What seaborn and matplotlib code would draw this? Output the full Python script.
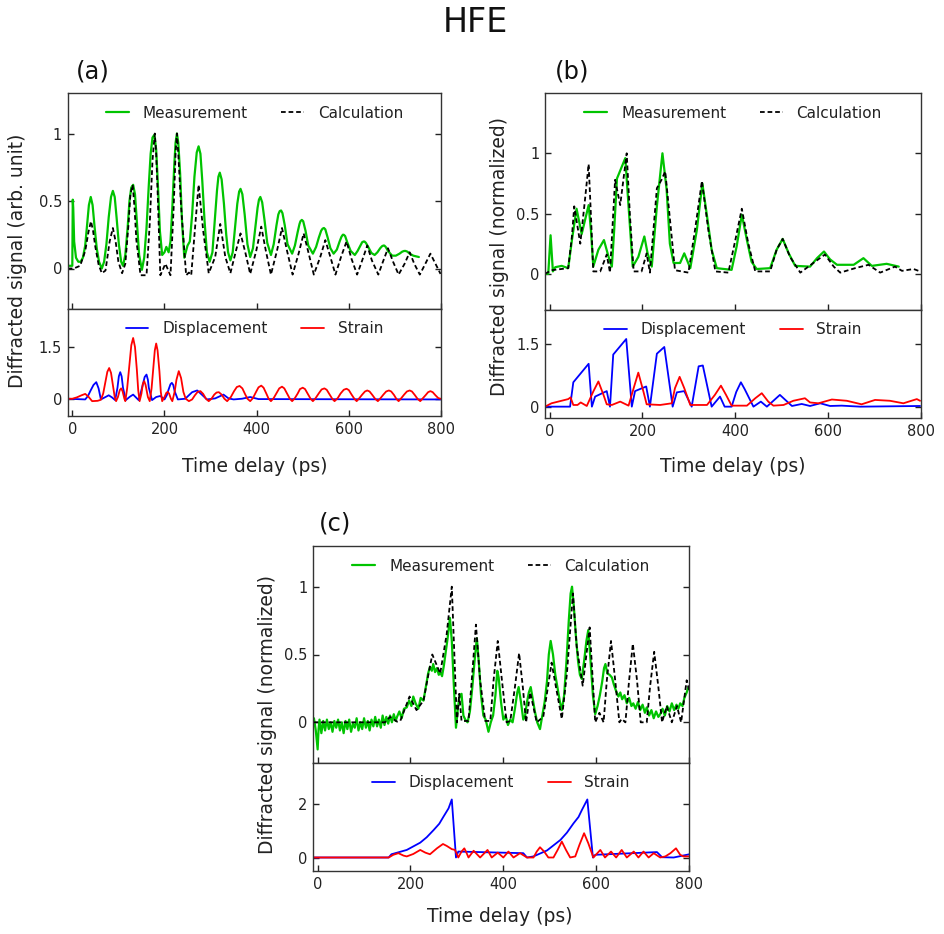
import numpy as np
import pandas as pd
import matplotlib
matplotlib.use("Agg")
import matplotlib.pyplot as plt
import seaborn as sns

# ---------------- data ----------------
# Panel (a) top: measurement as (time ps, signal) pairs
a_meas = [(-8, 0.02), (0, 0.02), (1, 0.51), (2, 0.45), (4, 0.2), (8, 0.08), (13, 0.05), (18, 0.05), (23, 0.08),
          (28, 0.17), (32, 0.32), (36, 0.47), (40, 0.53), (44, 0.47), (48, 0.32), (53, 0.15), (58, 0.05), (64, 0.0),
          (69, 0.05), (74, 0.18), (79, 0.38), (84, 0.53), (88, 0.575), (92, 0.53), (96, 0.38), (101, 0.18),
          (106, 0.05), (110, 0.02), (115, 0.1), (120, 0.3), (124, 0.5), (128, 0.6), (132, 0.62), (136, 0.55),
          (140, 0.35), (145, 0.1), (151, -0.01), (156, 0.08), (161, 0.3), (166, 0.62), (170, 0.85), (174, 0.97),
          (178, 0.99), (182, 0.88), (186, 0.6), (190, 0.28), (195, 0.1), (200, 0.12), (204, 0.16), (209, 0.12),
          (213, 0.2), (217, 0.45), (221, 0.75), (224, 0.93), (227, 1.0), (230, 0.93), (234, 0.7), (238, 0.35),
          (243, 0.08), (250, 0.17), (255, 0.2), (260, 0.4), (265, 0.68), (270, 0.86), (274, 0.905), (278, 0.85),
          (282, 0.65), (287, 0.35), (292, 0.12), (298, 0.05), (304, 0.12), (309, 0.35), (314, 0.58), (317, 0.68),
          (320, 0.71), (324, 0.66), (329, 0.48), (334, 0.25), (338, 0.12), (343, 0.06), (348, 0.12), (353, 0.3),
          (358, 0.48), (362, 0.57), (365, 0.59), (369, 0.55), (374, 0.4), (380, 0.18), (386, 0.085), (392, 0.15),
          (397, 0.3), (402, 0.45), (405, 0.51), (408, 0.53), (412, 0.49), (417, 0.36), (423, 0.19), (431, 0.10),
          (437, 0.18), (443, 0.32), (447, 0.4), (450, 0.425), (453, 0.43), (456, 0.41), (461, 0.32), (467, 0.18),
          (477, 0.11), (483, 0.17), (489, 0.27), (493, 0.33), (495, 0.35), (498, 0.36), (501, 0.35), (506, 0.28),
          (512, 0.17), (522, 0.11), (529, 0.16), (535, 0.23), (540, 0.28), (543, 0.295), (546, 0.30), (549, 0.29),
          (554, 0.23), (560, 0.15), (567, 0.11), (574, 0.14), (580, 0.2), (584, 0.235), (587, 0.25), (589, 0.25),
          (592, 0.24), (597, 0.19), (604, 0.13), (613, 0.10), (619, 0.13), (625, 0.17), (629, 0.195), (632, 0.2),
          (634, 0.2), (637, 0.19), (642, 0.16), (649, 0.115), (656, 0.10), (662, 0.12), (668, 0.15), (672, 0.165),
          (675, 0.17), (677, 0.17), (680, 0.16), (685, 0.13), (694, 0.095), (702, 0.095), (710, 0.11), (716, 0.125),
          (720, 0.13), (723, 0.13), (727, 0.125), (732, 0.11), (740, 0.095), (752, 0.085)]
a_calc_t = [-10, 3, 17, 28, 35, 40.5, 45, 50, 57, 64, 72, 81, 88, 94, 100, 108, 115, 122, 126, 131, 135, 139, 148,
            161, 168, 174, 179, 182, 185, 191, 202, 213, 220, 224, 227, 230, 236, 247, 253, 258, 267, 274, 284, 296,
            310, 321, 332, 343, 355, 365, 376, 386, 399, 410, 420, 431, 444, 455, 466, 478, 491, 502, 513, 524, 538,
            549, 560, 571, 583, 595, 606, 618, 629, 640, 650, 664, 674, 685, 696, 708, 721, 732, 742, 754, 766, 777,
            788, 799]
a_calc_v = [0, 0, 0.02, 0.13, 0.27, 0.35, 0.28, 0.16, 0.03, -0.035, -0.015, 0.2, 0.30, 0.2, 0.05, -0.035, 0.035,
            0.33, 0.55, 0.62, 0.45, 0.21, -0.05, -0.05, 0.33, 0.8, 1.0, 0.85, 0.58, -0.05, 0.035, -0.05, 0.46, 0.85,
            1.0, 0.85, 0.46, -0.05, -0.03, -0.05, 0.33, 0.62, 0.28, -0.035, 0.085, 0.33, 0.085, -0.035, 0.13, 0.26,
            0.11, -0.04, 0.13, 0.31, 0.13, -0.045, 0.13, 0.30, 0.13, -0.045, 0.11, 0.26, 0.11, -0.045, 0.085, 0.21,
            0.085, -0.045, 0.085, 0.20, 0.07, -0.045, 0.06, 0.17, 0.06, -0.045, 0.05, 0.15, 0.05, -0.045, 0.035,
            0.12, 0.035, -0.045, 0.035, 0.11, 0.035, -0.04]
# Panel (a) bottom
a_strain = [(-10, 0), (0, 0), (10, 0.04), (20, 0.1), (28, 0.14), (35, 0.06), (43, -0.07), (55, -0.06), (62, -0.03),
            (67, 0.15), (72, 0.5), (76, 0.78), (80, 0.89), (84, 0.75), (88, 0.4), (92, 0.05), (95, -0.07),
            (99, 0.05), (103, 0.25), (106, 0.30), (109, 0.22), (113, 0.0), (115, -0.07), (119, 0.3), (124, 1.0),
            (128, 1.55), (132, 1.76), (136, 1.5), (140, 0.85), (143, 0.25), (146, -0.07), (150, 0.15), (153, 0.43),
            (156, 0.51), (159, 0.4), (164, 0.05), (168, -0.07), (172, 0.3), (176, 0.95), (179, 1.4), (182, 1.60),
            (185, 1.4), (189, 0.8), (192, 0.2), (195, -0.07), (200, 0.05), (204, 0.17), (207, 0.20), (210, 0.15),
            (214, 0.0), (217, -0.07), (222, 0.2), (226, 0.55), (231, 0.80), (236, 0.6), (241, 0.2), (246, 0.0),
            (253, -0.07), (260, -0.02), (266, 0.1), (272, 0.2), (278, 0.22), (284, 0.14), (290, 0.0), (296, -0.07),
            (302, 0.0), (308, 0.12), (313, 0.18), (318, 0.19), (324, 0.12), (330, 0.0), (336, -0.07), (344, 0.05),
            (351, 0.22), (357, 0.34), (363, 0.37), (369, 0.3), (375, 0.13), (380, 0.0), (386, -0.07), (392, 0.02),
            (398, 0.18), (404, 0.33), (410, 0.38), (415, 0.32), (421, 0.15), (426, 0.0), (431, -0.07), (437, 0.02),
            (443, 0.16), (449, 0.3), (455, 0.35), (460, 0.3), (466, 0.15), (472, 0.0), (477, -0.07), (483, 0.02),
            (489, 0.15), (494, 0.28), (500, 0.32), (505, 0.28), (511, 0.14), (517, 0.0), (522, -0.07), (528, 0.02),
            (535, 0.16), (541, 0.27), (547, 0.30), (552, 0.26), (558, 0.13), (564, 0.0), (569, -0.07), (576, 0.02),
            (582, 0.15), (589, 0.26), (595, 0.29), (600, 0.25), (606, 0.12), (612, 0.0), (617, -0.07), (623, 0.02),
            (629, 0.12), (635, 0.21), (640, 0.24), (645, 0.21), (651, 0.11), (657, 0.0), (663, -0.07), (669, 0.02),
            (675, 0.12), (681, 0.21), (687, 0.24), (692, 0.21), (698, 0.11), (703, 0.0), (708, -0.07), (714, 0.02),
            (720, 0.12), (726, 0.21), (732, 0.24), (737, 0.21), (743, 0.11), (749, 0.0), (755, -0.07), (761, 0.02),
            (767, 0.11), (772, 0.19), (777, 0.22), (782, 0.19), (788, 0.1), (794, 0.02), (799, 0.0)]
a_disp_t = [-10, 28, 34, 39, 46, 52, 57, 62, 72, 79, 86, 93, 98, 101, 104, 107, 110, 116, 125, 132, 138, 144, 149,
            153, 157, 161, 164, 166, 173, 182, 191, 200, 205, 209, 213, 216, 219, 222, 229, 245, 260, 271, 281, 292,
            310, 328, 339, 350, 368, 386, 404, 799]
a_disp_v = [0, -0.02, 0.08, 0.22, 0.4, 0.48, 0.3, -0.02, 0.05, 0.10, 0.04, -0.04, 0.32, 0.65, 0.77, 0.65, 0.32,
            -0.04, 0.06, 0.12, 0.04, -0.04, 0.2, 0.41, 0.63, 0.70, 0.55, 0.32, -0.04, 0.05, 0.08, -0.02, 0.1, 0.27,
            0.42, 0.46, 0.4, 0.22, -0.02, 0.0, 0.19, 0.24, 0.12, -0.02, 0.01, 0.12, 0.01, -0.02, 0.0, 0.05, -0.01,
            -0.02]

# Panel (b) top
b_meas_t = [-10, -3, 2, 7, 12, 26, 40, 48, 58, 69, 84, 89, 94, 105, 117, 127, 134, 139, 145, 163, 170, 179,
            191, 204, 211, 220, 231, 243, 252, 259, 267, 281, 290, 303, 317, 329, 339, 349, 360, 392, 403, 414,
            425, 435, 446, 475, 489, 502, 515, 529, 561, 576, 591, 604, 619, 655, 676, 694, 726, 752]
b_meas_v = [0, 0, 0.32, 0.02, 0.055, 0.066, 0.047, 0.28, 0.54, 0.33, 0.57, 0.36, 0.06, 0.20, 0.28, 0.14, 0.06,
            0.36, 0.79, 0.96, 0.56, 0.06, 0.14, 0.31, 0.17, 0.06, 0.56, 1.0, 0.70, 0.25, 0.09, 0.09, 0.17, 0.047,
            0.36, 0.75, 0.48, 0.20, 0.047, 0.033, 0.23, 0.49, 0.28, 0.10, 0.04, 0.047, 0.20, 0.29, 0.17, 0.066,
            0.06, 0.13, 0.185, 0.12, 0.075, 0.075, 0.13, 0.066, 0.083, 0.06]
b_calc_t = [-10, 4, 40, 48, 53, 66, 76, 84, 89, 94, 109, 123, 130, 141, 152, 166, 173, 181, 198, 209, 216, 231,
            241, 249, 260, 270, 299, 313, 328, 342, 357, 385, 400, 414, 428, 443, 475, 489, 502, 518, 540, 568,
            593, 612, 626, 658, 687, 712, 744, 759, 784, 798]
b_calc_v = [0, 0.03, 0.047, 0.31, 0.56, 0.25, 0.61, 0.91, 0.48, 0.02, 0.02, 0.16, 0.01, 0.78, 0.57, 1.0, 0.48,
            0.02, 0.02, 0.17, 0.01, 0.71, 0.78, 0.85, 0.42, 0.03, 0.01, 0.36, 0.77, 0.36, 0.02, 0.01, 0.28, 0.54,
            0.25, 0.02, 0.02, 0.20, 0.29, 0.14, 0.01, 0.09, 0.16, 0.06, 0.01, 0.047, 0.075, 0.01, 0.06, 0.025,
            0.04, 0.02]
# Panel (b) bottom
b_disp_t = [-10, 44, 51, 84, 91, 98, 123, 130, 137, 165, 177, 184, 208, 216, 231, 247, 265, 274, 290, 306, 321,
            330, 349, 367, 377, 392, 402, 412, 420, 439, 455, 468, 496, 522, 543, 561, 583, 604, 629, 669, 798]
b_disp_v = [0, 0, 0.58, 1.02, 0, 0.24, 0.37, 0, 1.24, 1.61, 0, 0.37, 0.48, 0, 1.26, 1.42, 0, 0.34, 0.37, 0,
            0.96, 0.98, 0, 0.24, 0, 0, 0.35, 0.58, 0.42, 0, 0.12, 0, 0.28, 0.016, 0.064, 0.016, 0.08, 0.016, 0.024,
            0, 0.016]
b_strain_t = [-10, 4, 40, 45, 51, 60, 67, 80, 94, 105, 116, 123, 134, 152, 170, 181, 191, 202, 209, 238, 263,
              270, 280, 290, 303, 339, 356, 369, 380, 392, 425, 443, 457, 471, 482, 504, 525, 550, 561, 579, 608,
              640, 672, 701, 733, 762, 791, 798]
b_strain_v = [0, 0.08, 0.18, 0.22, 0.04, 0.04, 0.10, 0.016, 0.36, 0.60, 0.28, 0.056, 0.04, 0.12, 0.024, 0.44,
              0.81, 0.36, 0.056, 0.04, 0.08, 0.44, 0.71, 0.44, 0.04, 0.04, 0.28, 0.50, 0.28, 0.024, 0.024, 0.20,
              0.32, 0.12, 0.024, 0.04, 0.14, 0.20, 0.10, 0.08, 0.17, 0.14, 0.056, 0.16, 0.14, 0.08, 0.18, 0.14]

# Panel (c) top
c_meas_t = [-8, -4, 0, 2, 4, 8, 12, 16, 20, 24, 28, 32, 36, 40, 44, 48, 52, 56, 60, 64, 68, 72, 76, 80, 84, 88,
            92, 96, 100, 104, 108, 112, 116, 120, 124, 128, 132, 136, 140, 144, 148, 152, 156, 160, 164, 168,
            171, 176, 181, 186, 192, 197, 202, 206, 211, 217, 222, 228, 234, 238, 242, 246, 249, 253, 257, 261,
            264, 268, 272, 276, 280, 285, 289, 293, 298, 302, 306, 310, 314, 318, 323, 328, 333, 338, 343, 347,
            352, 357, 362, 368, 373, 378, 383, 387, 390, 395, 400, 405, 410, 415, 420, 425, 430, 433, 438, 443,
            447, 451, 455, 459, 463, 468, 473, 479, 484, 489, 494, 498, 502, 507, 512, 517, 522, 526, 531, 536,
            541, 545, 548, 552, 556, 561, 565, 569, 574, 579, 583, 588, 593, 598, 603, 608, 613, 617, 620, 624,
            629, 634, 638, 643, 648, 652, 656, 661, 666, 671, 676, 680, 685, 690, 695, 700, 705, 709, 714, 719,
            724, 729, 734, 738, 743, 748, 753, 758, 763, 768, 773, 777, 781, 786, 790, 795, 799]
c_meas_v = [0.03, -0.06, -0.2, -0.05, 0.02, -0.08, 0.01, -0.06, 0.02, -0.05, 0.0, -0.07, 0.01, -0.04, 0.02,
            -0.06, 0.0, -0.08, 0.01, -0.05, 0.02, -0.07, -0.01, -0.04, 0.03, -0.06, 0.0, -0.05, 0.03, -0.04, 0.01,
            -0.06, 0.02, -0.03, 0.04, -0.03, 0.02, -0.04, 0.05, -0.02, 0.04, -0.01, 0.05, 0.0, 0.06, 0.01,
            0.04, 0.08, 0.03, 0.10, 0.11, 0.16, 0.12, 0.19, 0.14, 0.10, 0.18, 0.16, 0.28, 0.36, 0.41, 0.38, 0.43,
            0.37, 0.40, 0.35, 0.37, 0.34, 0.42, 0.52, 0.62, 0.77, 0.60, 0.30, -0.04, 0.10, 0.20, 0.21, 0.05, 0.02,
            0.0, 0.08, 0.25, 0.45, 0.62, 0.45, 0.20, 0.05, 0.02, -0.07, 0.0, 0.05, 0.20, 0.38, 0.33, 0.15, 0.02,
            0.05, -0.02, 0.02, 0.0, 0.10, 0.22, 0.26, 0.15, 0.02, 0.05, 0.15, 0.22, 0.26, 0.18, 0.08, 0.0, -0.05,
            0.05, 0.15, 0.30, 0.50, 0.60, 0.50, 0.35, 0.25, 0.15, 0.09, 0.20, 0.45, 0.75, 0.95, 1.0, 0.85, 0.65,
            0.45, 0.35, 0.32, 0.45, 0.60, 0.68, 0.45, 0.20, 0.06, 0.12, 0.20, 0.30, 0.40, 0.43, 0.36, 0.35, 0.33,
            0.28, 0.23, 0.19, 0.22, 0.17, 0.20, 0.14, 0.18, 0.12, 0.14, 0.10, 0.15, 0.09, 0.13, 0.07, 0.11, 0.05,
            0.09, 0.03, 0.08, 0.04, 0.06, 0.10, 0.05, 0.12, 0.08, 0.14, 0.09, 0.13, 0.10, 0.14, 0.12, 0.18, 0.22,
            0.26]
c_calc_t = [-9, 145, 156, 171, 178, 198, 213, 228, 239, 247, 264, 278, 289, 300, 305, 310, 325, 332, 341, 350,
            361, 372, 379, 388, 397, 407, 415, 425, 434, 442, 449, 458, 472, 486, 497, 504, 515, 526, 537, 550,
            558, 571, 586, 598, 607, 616, 623, 632, 641, 650, 655, 663, 671, 679, 688, 696, 709, 716, 725, 734,
            742, 752, 763, 774, 783, 795, 801]
c_calc_v = [0, 0, 0.04, 0.005, 0.01, 0.19, 0.09, 0.16, 0.36, 0.50, 0.36, 0.65, 1.0, 0, 0.21, 0.01, 0.01, 0.31,
            0.72, 0.31, 0.01, 0.01, 0.31, 0.60, 0.31, 0, 0.01, 0.26, 0.51, 0.26, 0, 0.22, 0, 0.04, 0.28, 0.44,
            0.23, 0.025, 0.36, 0.95, 0.56, 0.27, 0.70, 0, 0.07, 0, 0.31, 0.60, 0.31, 0, 0.025, 0, 0.31, 0.58,
            0.31, 0, 0, 0.26, 0.52, 0.26, 0, 0.12, 0, 0.12, 0, 0.31, 0.23]
# Panel (c) bottom
c_disp_t = [-9, 153, 159, 192, 221, 235, 250, 262, 271, 282, 289, 298, 303, 443, 451, 465, 494, 523, 537, 551, 562,
            569, 581, 593, 598, 731, 742, 767, 801]
c_disp_v = [0, 0, 0.12, 0.28, 0.55, 0.75, 1.02, 1.25, 1.51, 1.82, 2.15, 0, 0.22, 0.16, 0, 0.04, 0.26, 0.65, 0.92,
            1.26, 1.5, 1.75, 2.15, 0, 0.1, 0.2, 0.01, 0, 0.12]
c_strain_t = [-9, 153, 163, 174, 185, 192, 206, 221, 232, 242, 257, 270, 278, 289, 296, 303, 310, 316, 321, 325,
              336, 350, 366, 375, 388, 400, 411, 422, 436, 451, 465, 472, 479, 488, 497, 508, 517, 526, 535, 544,
              555, 564, 574, 583, 594, 609, 619, 632, 643, 655, 666, 681, 691, 702, 713, 724, 738, 749, 760, 772,
              781, 788, 801]
c_strain_v = [0, 0, 0.1, 0.16, 0.07, 0.04, 0.13, 0.28, 0.18, 0.12, 0.34, 0.50, 0.43, 0.31, 0.28, 0, 0.22, 0.34,
              0.16, 0, 0.25, 0, 0.28, 0, 0.18, 0, 0.22, 0, 0.16, 0, 0, 0.22, 0.38, 0.22, 0, 0, 0.28, 0.59, 0.28,
              0, 0.04, 0.47, 0.90, 0.53, 0, 0.28, 0, 0.22, 0, 0.28, 0, 0.22, 0, 0.22, 0, 0.16, 0, 0.04, 0.16,
              0.34, 0.10, 0.04, 0.04]

x_ticks = [0, 200, 400, 600, 800]

a_meas_t = [p[0] for p in a_meas]
a_meas_v = [p[1] for p in a_meas]
a_strain_t = [p[0] for p in a_strain]
a_strain_v = [p[1] for p in a_strain]

# ---------------- styling ----------------
sns.set_theme(style="ticks")
plt.rcParams['font.family'] = ['DejaVu Sans']

GREEN = '#00c400'
BLUE = '#0000ff'
RED = '#ff0000'
W, H = 945, 934

fig = plt.figure(figsize=(W / 100, H / 100), dpi=100)


def box(l, t, r, b):
    return [l / W, 1 - b / H, (r - l) / W, (b - t) / H]


def style(ax, ylim, yticks, yticklabels, show_xlabels):
    ax.set_xlim(-10, 800)
    ax.set_ylim(*ylim)
    ax.set_xticks(x_ticks)
    ax.set_yticks(yticks)
    ax.set_yticklabels(yticklabels)
    ax.tick_params(direction='in', length=4, width=1, right=True, top=False,
                   labelsize=10.5, colors='#222222', pad=4)
    if not show_xlabels:
        ax.tick_params(labelbottom=False)
    for s in ax.spines.values():
        s.set_linewidth(1.0)
        s.set_color('#333333')
    ax.set_xlabel('')
    ax.set_ylabel('')


def legend(ax, ypos):
    leg = ax.legend(loc='center', bbox_to_anchor=(0.5, ypos), ncol=2, frameon=False,
                    fontsize=11, handlelength=1.5, handletextpad=0.9, columnspacing=2.2)
    for t in leg.get_texts():
        t.set_color('#222222')


def draw(ax, t, v, color, label, dashed=False, lw=1.4):
    df = pd.DataFrame({'t': t, 'v': v})
    ls = (0, (2.6, 1.6)) if dashed else '-'
    sns.lineplot(data=df, x='t', y='v', ax=ax, color=color, lw=lw, linestyle=ls,
                 label=label, sort=False, estimator=None)


panels = [
    dict(lbl='(a)', left=67.7, right=441, top=93, mid=309, bot=416,
         top_series=[(a_meas_t, a_meas_v, GREEN, 'Measurement', False),
                     (a_calc_t, a_calc_v, 'black', 'Calculation', True)],
         bot_series=[(a_disp_t, a_disp_v, BLUE, 'Displacement', False),
                     (a_strain_t, a_strain_v, RED, 'Strain', False)],
         tylim=(-0.3, 1.3), bylim=(-0.5, 2.6), byt=[0, 1.5], bytl=['0', '1.5'],
         ylabel='Diffracted signal (arb. unit)', ylab_x=18, ylab_y=261,
         xlab_x=255, xlab_y=466, lbl_x=93, lbl_y=72),
    dict(lbl='(b)', left=545, right=921, top=93, mid=310, bot=418,
         top_series=[(b_meas_t, b_meas_v, GREEN, 'Measurement', False),
                     (b_calc_t, b_calc_v, 'black', 'Calculation', True)],
         bot_series=[(b_disp_t, b_disp_v, BLUE, 'Displacement', False),
                     (b_strain_t, b_strain_v, RED, 'Strain', False)],
         tylim=(-0.3, 1.5), bylim=(-0.27, 2.3), byt=[0, 1.5], bytl=['0', '1.5'],
         ylabel='Diffracted signal (normalized)', ylab_x=500, ylab_y=256,
         xlab_x=733, xlab_y=466, lbl_x=572, lbl_y=72),
    dict(lbl='(c)', left=313, right=689, top=546, mid=763, bot=871,
         top_series=[(c_meas_t, c_meas_v, GREEN, 'Measurement', False),
                     (c_calc_t, c_calc_v, 'black', 'Calculation', True)],
         bot_series=[(c_disp_t, c_disp_v, BLUE, 'Displacement', False),
                     (c_strain_t, c_strain_v, RED, 'Strain', False)],
         tylim=(-0.3, 1.3), bylim=(-0.5, 3.5), byt=[0, 2], bytl=['0', '2'],
         ylabel='Diffracted signal (normalized)', ylab_x=268, ylab_y=715,
         xlab_x=500, xlab_y=916, lbl_x=335, lbl_y=523),
]

for p in panels:
    ax_t = fig.add_axes(box(p['left'], p['top'], p['right'], p['mid']))
    ax_b = fig.add_axes(box(p['left'], p['mid'], p['right'], p['bot']))
    for (t, v, c, lab, d) in p['top_series']:
        draw(ax_t, t, v, c, lab, dashed=d, lw=1.3 if d else 1.6)
    for (t, v, c, lab, d) in p['bot_series']:
        draw(ax_b, t, v, c, lab, lw=1.3)
    style(ax_t, p['tylim'], [0, 0.5, 1], ['0', '0.5', '1'], False)
    style(ax_b, p['bylim'], p['byt'], p['bytl'], True)
    legend(ax_t, 0.907)
    legend(ax_b, 0.818)
    fig.text(p['ylab_x'] / W, 1 - p['ylab_y'] / H, p['ylabel'], rotation=90,
             ha='center', va='center', fontsize=13.5, color='#222222')
    fig.text(p['xlab_x'] / W, 1 - p['xlab_y'] / H, 'Time delay (ps)',
             ha='center', va='center', fontsize=13.5, color='#222222')
    fig.text(p['lbl_x'] / W, 1 - p['lbl_y'] / H, p['lbl'],
             ha='center', va='center', fontsize=17.5, color='#111111')

fig.text(475 / W, 1 - 22 / H, 'HFE', ha='center', va='center', fontsize=24, color='#111111')

fig.savefig('out.png', dpi=100)
